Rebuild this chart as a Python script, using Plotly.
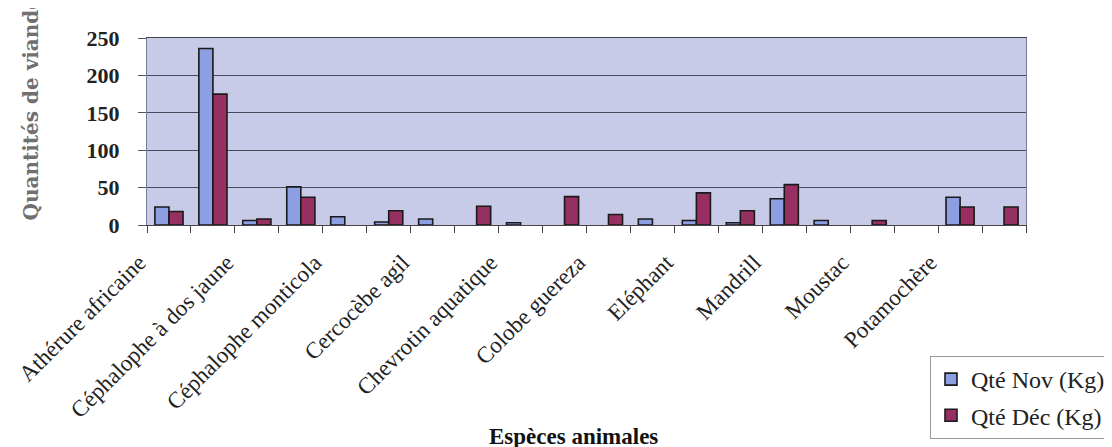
import plotly.graph_objects as go

# species (only every other name is printed on the axis)
especes = [
    'Athérure africaine', 'Aulacode', 'Céphalophe à dos jaune', 'Céphalophe de Peters',
    'Céphalophe monticola', 'Céphalophe noir', 'Cercocèbe agil', 'Cercopithèque hocheur',
    'Chevrotin aquatique', 'Civette', 'Colobe guereza', 'Crocodile',
    'Eléphant', 'Genette', 'Mandrill', 'Mangouste',
    'Moustac', 'Pangolin', 'Potamochère', 'Python',
]
# empty cells are left as None (no bar drawn)
qte_nov = [24, 236, 6, 51, 11, 4, 8, None, 3, None, None, 8, 6, 3, 35, 6, None, None, 37, None]
qte_dec = [18, 175, 8, 37, None, 19, None, 25, None, 38, 14, None, 43, 19, 54, None, 6, None, 24, 24]
y_ticks = [0, 50, 100, 150, 200, 250]

serif = 'Liberation Serif'
tick_text = [e if i % 2 == 0 else '' for i, e in enumerate(especes)]

fig = go.Figure()
fig.add_trace(go.Bar(
    x=especes, y=qte_nov, name='Qté Nov (Kg)',
    marker=dict(color='#8C9FE2', line=dict(color='#1a1a1a', width=1.6)),
    legendgroup='nov'
))
fig.add_trace(go.Bar(
    x=especes, y=qte_dec, name='Qté Déc (Kg)',
    marker=dict(color='#982F62', line=dict(color='#1a1a1a', width=1.6)),
    legendgroup='dec'
))

fig.update_layout(
    width=1112,
    height=447,
    margin=dict(l=139, r=94, t=30, b=230, autoexpand=False),
    paper_bgcolor='white',
    plot_bgcolor='#C8CBE8',
    barmode='group',
    bargap=0.36,
    bargroupgap=0,
    font=dict(family=serif, color='#222222'),
    showlegend=True,
    legend=dict(
        x=(922 - 139) / 879, xanchor='left',
        y=(217 - 348) / 187, yanchor='top',
        bgcolor='white',
        bordercolor='#9a9a9a',
        borderwidth=1,
        font=dict(family=serif, size=24, color='#222222'),
        tracegroupgap=2,
        traceorder='grouped',
    ),
    annotations=[
        dict(
            text='<b>Espèces animales</b>',
            xref='paper', yref='paper',
            x=(565 - 139) / 879, y=(217 - 428) / 187,
            xanchor='center', yanchor='middle',
            showarrow=False,
            font=dict(family=serif, size=23, color='#111111'),
        ),
        dict(
            text='<b>Quantités de viande (Kg)</b>',
            xref='paper', yref='paper',
            x=(22 - 139) / 879, y=(217 - 214) / 187,
            xanchor='center', yanchor='bottom',
            textangle=-90,
            showarrow=False,
            font=dict(family='DejaVu Serif', size=20, color='#707070'),
        ),
    ],
)

fig.update_xaxes(
    type='category',
    tickmode='array',
    tickvals=especes,
    ticktext=tick_text,
    tickson='boundaries',
    ticks='outside',
    ticklen=7,
    tickcolor='#444444',
    tickangle=-45,
    ticklabelstandoff=14,
    ticklabelshift=-30,
    tickfont=dict(family=serif, size=23, color='#222222'),
    showline=True,
    linecolor='#444444',
    linewidth=1,
    mirror=True,
    showgrid=False,
    automargin=False,
)
fig.update_yaxes(
    range=[0, 250],
    tickmode='array',
    tickvals=y_ticks,
    ticks='outside',
    ticklen=8,
    tickcolor='#555555',
    ticklabelstandoff=14,
    tickfont=dict(family=serif, size=22, color='#222222', weight='bold'),
    showline=True,
    linecolor='#7a7a9a',
    linewidth=1,
    mirror=True,
    showgrid=True,
    gridcolor='#4a4a5a',
    gridwidth=1,
    zeroline=False,
    automargin=False,
)

fig.write_html('out.html')
